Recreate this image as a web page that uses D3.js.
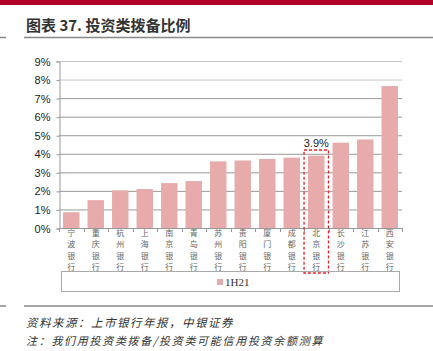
<!DOCTYPE html>
<html>
<head>
<meta charset="utf-8">
<script src="https://cdn.jsdelivr.net/npm/d3@7"></script>
<style>
  body { margin: 0; background: #fff; }
  svg { display: block; }
</style>
</head>
<body>
<script>
// chart size
var W = 433;
var H = 351;

// data
var banks = ["宁波银行", "重庆银行", "杭州银行", "上海银行", "南京银行", "青岛银行", "苏州银行",
             "贵阳银行", "厦门银行", "成都银行", "北京银行", "长沙银行", "江苏银行", "西安银行"];
var ratio1H21 = [0.85, 1.5, 2.03, 2.1, 2.42, 2.53, 3.59, 3.64, 3.72, 3.79, 3.9, 4.6, 4.77, 7.65];
var yTicks = [0, 1, 2, 3, 4, 5, 6, 7, 8, 9];
var seriesName = "1H21";
var highlight = "北京银行";
var titleText = "图表 37. 投资类拨备比例";
var sourceText = "资料来源：上市银行年报，中银证券";
var noteText = "注：我们用投资类拨备/投资类可能信用投资余额测算";

var plot = { left: 59, right: 402, top: 61, bottom: 228 };
var barColor = "#e8abab";
var cjk = "'Noto Sans CJK SC', 'Noto Sans', sans-serif";

function main() {
  var svg = d3.select("body").append("svg")
    .attr("width", W)
    .attr("height", H);

  // header band and title
  svg.append("rect").attr("x", 0).attr("y", 0).attr("width", W).attr("height", 5)
    .attr("fill", "#b0002a");
  svg.append("text")
    .attr("x", 26).attr("y", 31)
    .attr("font-family", cjk).attr("font-size", 15).attr("font-weight", "bold")
    .attr("fill", "#333")
    .text(titleText);
  rule(svg, 37.5);

  var x = d3.scaleBand()
    .domain(banks)
    .range([plot.left, plot.right])
    .paddingInner(0.33)
    .paddingOuter(0.165);
  var y = d3.scaleLinear()
    .domain([0, 9])
    .range([plot.bottom, plot.top]);

  // gridlines
  svg.append("g").selectAll("line")
    .data(yTicks.slice(1))
    .enter().append("line")
    .attr("x1", plot.left).attr("x2", plot.right)
    .attr("y1", function(d) { return y(d) + 0.5; })
    .attr("y2", function(d) { return y(d) + 0.5; })
    .attr("stroke", function(d) { return d >= 8 ? "#c8c8c8" : "#999"; })
    .attr("stroke-width", 1);

  // y axis
  var yAxis = d3.axisLeft(y).tickValues(yTicks).tickSize(3).tickPadding(6)
    .tickFormat(function(d) { return d + "%"; });
  var gy = svg.append("g")
    .attr("transform", "translate(" + (plot.left + 0.5) + ",0.5)")
    .call(yAxis);
  gy.select(".domain").attr("stroke", "#999");
  gy.selectAll(".tick line").attr("stroke", "#999");
  gy.selectAll("text").attr("font-family", "'Liberation Sans', Arial, sans-serif")
    .attr("font-size", 11).attr("fill", "#222");

  // bars
  svg.append("g").selectAll("rect")
    .data(banks)
    .enter().append("rect")
    .attr("x", function(d) { return x(d); })
    .attr("y", function(d, i) { return y(ratio1H21[i]); })
    .attr("width", x.bandwidth())
    .attr("height", function(d, i) { return y(0) - y(ratio1H21[i]); })
    .attr("fill", barColor);

  // x axis with ticks between bands
  var step = x.step();
  svg.append("line")
    .attr("x1", plot.left).attr("x2", plot.right)
    .attr("y1", plot.bottom + 0.5).attr("y2", plot.bottom + 0.5)
    .attr("stroke", "#999");
  svg.append("g").selectAll("line")
    .data(d3.range(banks.length + 1))
    .enter().append("line")
    .attr("x1", function(i) { return Math.round(plot.left + i * step) + 0.5; })
    .attr("x2", function(i) { return Math.round(plot.left + i * step) + 0.5; })
    .attr("y1", plot.bottom).attr("y2", plot.bottom + 4)
    .attr("stroke", "#999");

  // vertical category labels
  var lab = svg.append("g").selectAll("text")
    .data(banks)
    .enter().append("text")
    .attr("font-family", cjk).attr("font-size", 8).attr("fill", "#666")
    .attr("text-anchor", "middle");
  lab.each(function(d) {
    var t = d3.select(this);
    var cx = x(d) + x.bandwidth() / 2;
    d.split("").forEach(function(ch, k) {
      t.append("tspan").attr("x", cx).attr("y", 236 + k * 11.4).text(ch);
    });
  });

  // highlight box and value label
  var hi = banks.indexOf(highlight);
  svg.append("rect")
    .attr("x", x(highlight) - 4).attr("y", 150)
    .attr("width", x.bandwidth() + 8).attr("height", 123)
    .attr("fill", "none").attr("stroke", "#e8202a")
    .attr("stroke-width", 1.3).attr("stroke-dasharray", "3,2");
  svg.append("text")
    .attr("x", x(highlight) + x.bandwidth() / 2).attr("y", 147)
    .attr("text-anchor", "middle")
    .attr("font-family", "'Liberation Sans', Arial, sans-serif").attr("font-size", 11)
    .attr("fill", "#222")
    .text(d3.format(".1f")(ratio1H21[hi]) + "%");

  // legend
  svg.append("rect").attr("x", 61.5).attr("y", 271.5).attr("width", 338).attr("height", 20)
    .attr("fill", "none").attr("stroke", "#aaa");
  svg.append("rect").attr("x", 217).attr("y", 279).attr("width", 6).attr("height", 6)
    .attr("fill", barColor);
  svg.append("text").attr("x", 225).attr("y", 285.5)
    .attr("font-family", "'Liberation Serif', 'Times New Roman', serif").attr("font-size", 11)
    .attr("fill", "#333")
    .text(seriesName);

  // footer
  rule(svg, 306);
  svg.append("text").attr("x", 26).attr("y", 327)
    .attr("font-family", cjk).attr("font-size", 11.5).attr("font-style", "italic")
    .attr("letter-spacing", 1.5).attr("fill", "#333")
    .text(sourceText);
  svg.append("text").attr("x", 26).attr("y", 345)
    .attr("font-family", cjk).attr("font-size", 11).attr("font-style", "italic")
    .attr("letter-spacing", 1.7).attr("fill", "#333")
    .text(noteText);
}

function rule(svg, yy) {
  // grey separator with the short stub on the left
  svg.append("line").attr("x1", 0).attr("x2", 6).attr("y1", yy).attr("y2", yy)
    .attr("stroke", "#888").attr("stroke-width", 1.5);
  svg.append("line").attr("x1", 24).attr("x2", W).attr("y1", yy).attr("y2", yy)
    .attr("stroke", "#888").attr("stroke-width", 1.5);
}

main();
</script>
</body>
</html>
